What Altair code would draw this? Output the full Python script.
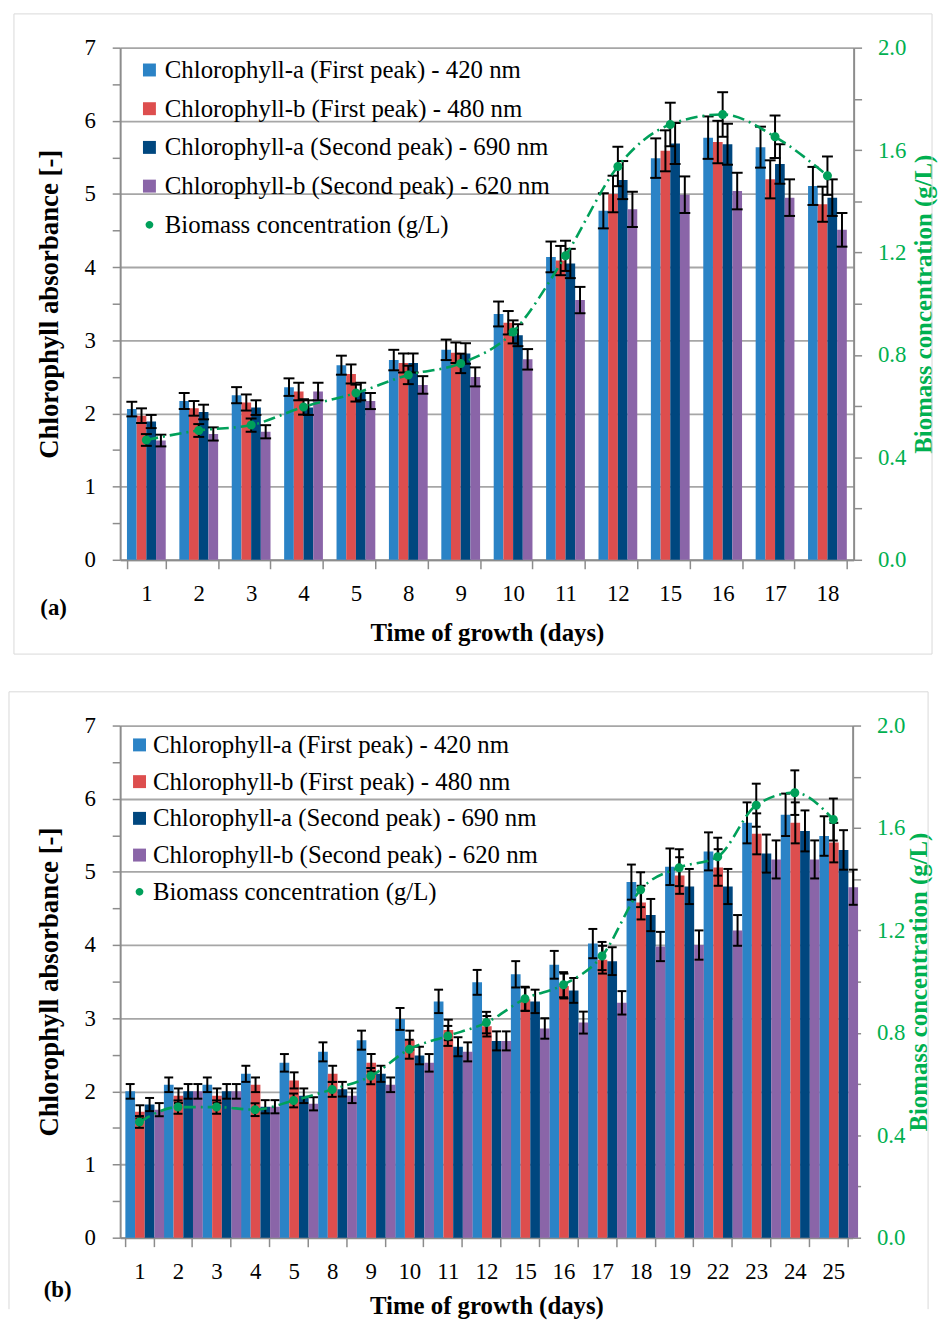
import altair as alt
import pandas as pd

FONT = "Liberation Serif"
SERIES = [
    "Chlorophyll-a (First peak) - 420 nm",
    "Chlorophyll-b (First peak) - 480 nm",
    "Chlorophyll-a (Second peak) - 690 nm",
    "Chlorophyll-b (Second peak) - 620 nm",
]
BIOMASS = "Biomass concentration (g/L)"
LEGEND_DOMAIN = SERIES + [BIOMASS]
COLORS = ["#2B83C6", "#DD4E4E", "#00477F", "#8A65A8", "#00A05A"]
SQUARE = "M-1,-1L1,-1L1,1L-1,1Z"
SMALL_CIRCLE = "M-0.6,0A0.6,0.6,0,1,0,0.6,0A0.6,0.6,0,1,0,-0.6,0Z"
SHAPES = [SQUARE, SQUARE, SQUARE, SQUARE, SMALL_CIRCLE]
GREEN_TEXT = "#00B050"
GREEN = "#00A05A"

# ---------------- Panel (a) ----------------
days_a = [1, 2, 3, 4, 5, 8, 9, 10, 11, 12, 15, 16, 17, 18]
a_chla_420 = [2.06, 2.17, 2.25, 2.36, 2.66, 2.73, 2.87, 3.36, 4.14, 4.77, 5.49, 5.77, 5.64, 5.11]
a_chlb_480 = [1.97, 2.07, 2.15, 2.30, 2.54, 2.69, 2.83, 3.24, 4.09, 5.00, 5.59, 5.71, 5.20, 4.86]
a_chla_690 = [1.89, 2.02, 2.08, 2.08, 2.30, 2.69, 2.82, 3.07, 4.05, 5.19, 5.69, 5.68, 5.41, 4.95]
a_chlb_620 = [1.63, 1.72, 1.75, 2.30, 2.17, 2.39, 2.50, 2.74, 3.55, 4.79, 4.99, 5.04, 4.95, 4.51]
a_err_420 = [0.10, 0.11, 0.11, 0.12, 0.13, 0.14, 0.14, 0.17, 0.21, 0.24, 0.27, 0.29, 0.28, 0.26]
a_err_480 = [0.10, 0.10, 0.11, 0.12, 0.13, 0.13, 0.14, 0.16, 0.20, 0.25, 0.28, 0.29, 0.26, 0.24]
a_err_690 = [0.09, 0.10, 0.10, 0.10, 0.12, 0.13, 0.14, 0.15, 0.20, 0.26, 0.28, 0.28, 0.27, 0.25]
a_err_620 = [0.08, 0.09, 0.09, 0.12, 0.11, 0.12, 0.13, 0.14, 0.18, 0.24, 0.25, 0.25, 0.25, 0.23]
a_biomass = [0.468, 0.505, 0.526, 0.597, 0.651, 0.722, 0.767, 0.890, 1.187, 1.536, 1.700, 1.739, 1.652, 1.500]
a_biomass_err = [0.023, 0.025, 0.026, 0.030, 0.033, 0.036, 0.038, 0.045, 0.059, 0.077, 0.085, 0.087, 0.083, 0.075]

# ---------------- Panel (b) ----------------
days_b = [1, 2, 3, 4, 5, 8, 9, 10, 11, 12, 15, 16, 17, 18, 19, 22, 23, 24, 25]
b_chla_420 = [2.00, 2.09, 2.09, 2.24, 2.39, 2.54, 2.70, 2.99, 3.23, 3.49, 3.60, 3.73, 4.02, 4.86, 5.07, 5.28, 5.67, 5.78, 5.49]
b_chlb_480 = [1.72, 1.94, 1.94, 2.09, 2.15, 2.24, 2.39, 2.70, 2.84, 2.89, 3.26, 3.44, 3.80, 4.58, 4.95, 5.06, 5.52, 5.67, 5.40]
b_chla_690 = [1.82, 2.00, 2.00, 1.79, 1.94, 2.03, 2.24, 2.49, 2.61, 2.69, 3.23, 3.38, 3.78, 4.41, 4.80, 4.80, 5.25, 5.56, 5.30]
b_chlb_620 = [1.75, 2.00, 2.00, 1.79, 1.83, 1.94, 2.09, 2.39, 2.54, 2.69, 2.86, 2.94, 3.21, 3.98, 4.00, 4.20, 5.17, 5.17, 4.79]
b_err_420 = [0.10, 0.10, 0.10, 0.11, 0.12, 0.13, 0.13, 0.15, 0.16, 0.17, 0.18, 0.19, 0.20, 0.24, 0.25, 0.26, 0.28, 0.29, 0.27]
b_err_480 = [0.09, 0.10, 0.10, 0.10, 0.11, 0.11, 0.12, 0.13, 0.14, 0.14, 0.16, 0.17, 0.19, 0.23, 0.25, 0.25, 0.28, 0.28, 0.27]
b_err_690 = [0.09, 0.10, 0.10, 0.09, 0.10, 0.10, 0.11, 0.12, 0.13, 0.13, 0.16, 0.17, 0.19, 0.22, 0.24, 0.24, 0.26, 0.28, 0.27]
b_err_620 = [0.09, 0.10, 0.10, 0.09, 0.09, 0.10, 0.10, 0.12, 0.13, 0.13, 0.14, 0.15, 0.16, 0.20, 0.20, 0.21, 0.26, 0.26, 0.24]
b_biomass = [0.452, 0.510, 0.510, 0.500, 0.536, 0.579, 0.631, 0.736, 0.788, 0.840, 0.933, 0.988, 1.100, 1.359, 1.445, 1.488, 1.689, 1.738, 1.633]
b_biomass_err = [0.023, 0.026, 0.026, 0.025, 0.027, 0.029, 0.032, 0.037, 0.039, 0.042, 0.047, 0.049, 0.055, 0.068, 0.072, 0.074, 0.084, 0.087, 0.082]

LEFT_TICKS = [i * 0.5 for i in range(15)]
RIGHT_TICKS = [round(i * 0.2, 1) for i in range(11)]


def frame_layers(df, frame, closed):
    """Light grey border around a panel (top, left, right and optionally bottom)."""
    x0, x1, y0, y1 = frame
    style = dict(color="#d9d9d9", strokeWidth=1, clip=False)
    edges = [
        alt.Chart(df).mark_rule(**style).encode(x=alt.value(x0), x2=alt.value(x1), y=alt.value(y0)),
        alt.Chart(df).mark_rule(**style).encode(x=alt.value(x0), y=alt.value(y0), y2=alt.value(y1)),
        alt.Chart(df).mark_rule(**style).encode(x=alt.value(x1), y=alt.value(y0), y2=alt.value(y1)),
    ]
    if closed:
        edges.append(
            alt.Chart(df).mark_rule(**style).encode(x=alt.value(x0), x2=alt.value(x1), y=alt.value(y1))
        )
    return edges


def panel(days, vals, errs, bio, bio_err, tag, width, pad_inner, cap,
          legend_x, legend_y, row_pad, label_offset, frame, closed, tag_pos,
          right_title_pad, x_title_pad):
    day_labels = [str(d) for d in days]
    rows = []
    for s, vs, es in zip(SERIES, vals, errs):
        for d, v, e in zip(day_labels, vs, es):
            rows.append({"day": d, "series": s, "value": v, "err": e})
    bars_df = pd.DataFrame(rows)
    bio_df = pd.DataFrame({"day": day_labels, "series": BIOMASS, "value": bio, "err": bio_err})

    legend = alt.Legend(
        title=None, orient="none", legendX=legend_x, legendY=legend_y,
        labelFont=FONT, labelFontSize=25, labelColor="#000000", labelLimit=0,
        symbolSize=170, symbolStrokeWidth=0, rowPadding=row_pad, labelOffset=label_offset,
        padding=0,
    )
    color = alt.Color("series:N", scale=alt.Scale(domain=LEGEND_DOMAIN, range=COLORS), legend=legend)
    shape = alt.Shape("series:N", scale=alt.Scale(domain=LEGEND_DOMAIN, range=SHAPES), legend=legend)

    x = alt.X(
        "day:N", sort=day_labels,
        scale=alt.Scale(domain=day_labels, paddingInner=pad_inner, paddingOuter=pad_inner / 2),
        axis=alt.Axis(
            title="Time of growth (days)", labelAngle=0, tickBand="extent", grid=False,
            labelFont=FONT, labelFontSize=23, labelColor="#000000", labelPadding=14,
            titleFont=FONT, titleFontSize=25, titleFontWeight="bold", titleColor="#000000",
            titlePadding=x_title_pad, domainColor="#8c8c8c", domainWidth=2, tickColor="#8c8c8c",
            tickWidth=1.5, tickSize=9,
        ),
    )
    xoff = alt.XOffset("series:N", sort=SERIES,
                       scale=alt.Scale(domain=SERIES, paddingInner=0, paddingOuter=0))

    left_scale = alt.Scale(domain=[0, 7], nice=False)
    left_axis = alt.Axis(
        title="Chlorophyll absorbance [-]", values=LEFT_TICKS,
        labelExpr="datum.value % 1 === 0 ? format(datum.value, 'd') : ''",
        gridOpacity={"condition": {"test": "datum.value % 1 !== 0", "value": 0}, "value": 1},
        gridColor="#a6a6a6", gridWidth=1.8,
        labelFont=FONT, labelFontSize=23, labelColor="#000000", labelPadding=17,
        titleFont=FONT, titleFontSize=27, titleFontWeight="bold", titleColor="#000000",
        titlePadding=21, domainColor="#8c8c8c", domainWidth=2, tickColor="#8c8c8c",
        tickWidth=1.5, tickSize=8,
    )
    right_axis = alt.Axis(
        title=BIOMASS, orient="right", values=RIGHT_TICKS, grid=False,
        labelExpr="(round(datum.value * 10) % 4 === 0) ? format(datum.value, '.1f') : ''",
        labelFont=FONT, labelFontSize=23, labelColor=GREEN_TEXT, labelPadding=16,
        titleFont=FONT, titleFontSize=25, titleFontWeight="bold", titleColor=GREEN_TEXT,
        titleAngle=270, titlePadding=right_title_pad, domainColor="#8c8c8c", domainWidth=2,
        tickColor="#8c8c8c", tickWidth=1.5, tickSize=8,
    )
    right_scale = alt.Scale(domain=[0, 2], nice=False)

    base_bars = alt.Chart(bars_df)
    bars = base_bars.mark_bar().encode(
        x=x, xOffset=xoff, y=alt.Y("value:Q", scale=left_scale, axis=left_axis), color=color
    )
    err_base = base_bars.transform_calculate(
        lo="datum.value - datum.err", hi="datum.value + datum.err"
    )
    err_rule = err_base.mark_rule(color="#000000", strokeWidth=2).encode(
        x=x, xOffset=xoff, y=alt.Y("lo:Q", scale=left_scale, axis=left_axis), y2="hi:Q"
    )
    err_cap_hi = err_base.mark_tick(color="#000000", thickness=2, size=cap, opacity=1).encode(
        x=x, xOffset=xoff, y=alt.Y("hi:Q", scale=left_scale, axis=left_axis)
    )
    err_cap_lo = err_base.mark_tick(color="#000000", thickness=2, size=cap, opacity=1).encode(
        x=x, xOffset=xoff, y=alt.Y("lo:Q", scale=left_scale, axis=left_axis)
    )

    deco_df = pd.DataFrame({"t": [tag]})
    tag_mark = alt.Chart(deco_df).mark_text(
        font=FONT, fontSize=23, fontWeight="bold", color="#000000",
        align="center", baseline="middle",
    ).encode(text="t:N", x=alt.value(tag_pos[0]), y=alt.value(tag_pos[1]))

    left = alt.layer(*frame_layers(deco_df, frame, closed),
                     bars, err_rule, err_cap_hi, err_cap_lo, tag_mark)

    base_bio = alt.Chart(bio_df).transform_calculate(
        lo="datum.value - datum.err", hi="datum.value + datum.err"
    )
    line = base_bio.mark_line(
        color=GREEN, strokeWidth=2.6, strokeDash=[12, 5, 2, 5], interpolate="monotone"
    ).encode(x=x, y=alt.Y("value:Q", scale=right_scale, axis=right_axis))
    bio_rule = base_bio.mark_rule(color="#000000", strokeWidth=2).encode(
        x=x, y=alt.Y("lo:Q", scale=right_scale, axis=right_axis), y2="hi:Q"
    )
    bio_cap_hi = base_bio.mark_tick(color="#000000", thickness=2, size=cap, opacity=1).encode(
        x=x, y=alt.Y("hi:Q", scale=right_scale, axis=right_axis)
    )
    bio_cap_lo = base_bio.mark_tick(color="#000000", thickness=2, size=cap, opacity=1).encode(
        x=x, y=alt.Y("lo:Q", scale=right_scale, axis=right_axis)
    )
    points = base_bio.mark_point(filled=True, size=230, opacity=1).encode(
        x=x, y=alt.Y("value:Q", scale=right_scale, axis=right_axis), color=color, shape=shape
    )
    right = alt.layer(line, bio_rule, bio_cap_hi, bio_cap_lo, points)

    return alt.layer(left, right).resolve_scale(y="independent").properties(
        width=width, height=516
    )


panel_a = panel(
    days_a,
    [a_chla_420, a_chlb_480, a_chla_690, a_chlb_620],
    [a_err_420, a_err_480, a_err_690, a_err_620],
    a_biomass, a_biomass_err, "(a)", 739, 0.26, 11,
    legend_x=17, legend_y=10, row_pad=13, label_offset=3,
    frame=(-107, 818, -34, 611), closed=True, tag_pos=(-67, 565),
    right_title_pad=31, x_title_pad=15,
)
panel_b = panel(
    days_b,
    [b_chla_420, b_chlb_480, b_chla_690, b_chlb_620],
    [b_err_420, b_err_480, b_err_690, b_err_620],
    b_biomass, b_biomass_err, "(b)", 738, 0.27, 9,
    legend_x=7, legend_y=7, row_pad=11, label_offset=1,
    frame=(-112, 814, -34, 588), closed=False, tag_pos=(-63, 569),
    right_title_pad=27, x_title_pad=10,
)

chart = alt.concat(panel_a, panel_b, columns=1, spacing=36, align="none").properties(
    padding={"left": 0, "top": 0, "right": 0, "bottom": 0}
).resolve_scale(
    color="independent", shape="independent"
).resolve_legend(
    color="independent", shape="independent"
).configure_view(stroke="transparent")

chart.save("out.html", embed_options={"renderer": "svg", "actions": False})
